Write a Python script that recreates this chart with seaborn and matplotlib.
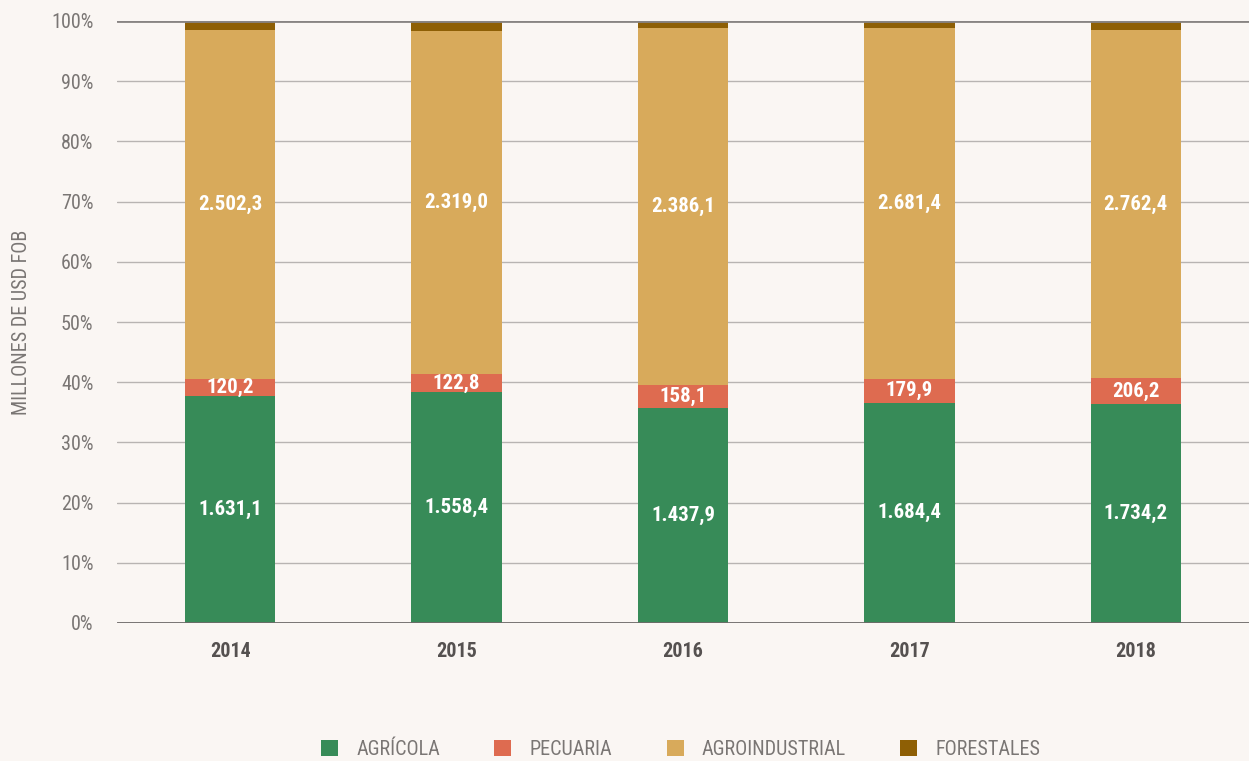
import matplotlib.pyplot as plt
import numpy as np
import pandas as pd
import seaborn as sns
from matplotlib import font_manager
from matplotlib.patches import Patch

years = ["2014", "2015", "2016", "2017", "2018"]
agricola = [1631.1, 1558.4, 1437.9, 1684.4, 1734.2]
pecuaria = [120.2, 122.8, 158.1, 179.9, 206.2]
agroindustrial = [2502.3, 2319.0, 2386.1, 2681.4, 2762.4]
forestales = [65.0, 65.0, 48.0, 55.0, 72.0]  # not labelled, estimated from the band heights

series_names = ["AGRÍCOLA", "PECUARIA", "AGROINDUSTRIAL", "FORESTALES"]
colors = ["#378b58", "#de6b50", "#d8aa5b", "#8e5f05"]

bg = "#faf6f3"
grey = "#7a7674"

# prefer a narrow face if one is installed
installed = {f.name for f in font_manager.fontManager.ttflist}
narrow = [n for n in ["Liberation Sans Narrow", "Roboto Condensed", "Open Sans Condensed",
                      "DejaVu Sans Condensed", "Roboto", "DejaVu Sans"] if n in installed]
font = narrow[:1] + ["DejaVu Sans"]

sns.set_style("white")
plt.rcParams["font.family"] = font

vals = np.array([agricola, pecuaria, agroindustrial, forestales])
pct = vals / vals.sum(axis=0) * 100
cum = np.cumsum(pct, axis=0)

fig = plt.figure(figsize=(12.49, 7.61), dpi=100, facecolor=bg)
ax = fig.add_axes([117 / 1249, 138 / 761, 1 - 117 / 1249, 602 / 761])
ax.set_facecolor(bg)

# stacked bars: draw cumulative tops, largest first
for i in reversed(range(len(series_names))):
    df = pd.DataFrame({"year": years, "top": cum[i]})
    sns.barplot(data=df, x="year", y="top", color=colors[i], width=0.4,
                saturation=1, linewidth=0, ax=ax, zorder=3)

for j in range(len(years)):
    for i in range(3):
        mid = cum[i, j] - pct[i, j] / 2
        txt = f"{vals[i, j]:,.1f}".replace(",", "X").replace(".", ",").replace("X", ".")
        ax.text(j, mid, txt, ha="center", va="center", color="white",
                fontsize=15, fontweight="bold", zorder=5)

ax.set_ylim(0, 100)
ax.set_xlim(-0.5, 4.5)
ax.set_yticks(np.arange(0, 101, 10))
ax.set_yticklabels([f"{t}%" for t in range(0, 101, 10)], fontsize=14.5, color=grey)
ax.tick_params(axis="y", length=5, color=grey, pad=12)
ax.tick_params(axis="x", length=0, pad=14, labelsize=14.5, labelcolor="#555150")
for lab in ax.get_xticklabels():
    lab.set_fontweight("bold")
ax.yaxis.grid(True, color="#b8b4b2", linewidth=1, zorder=0)
ax.axhline(100, color="#888483", linewidth=2, zorder=4)
ax.axhline(0, color="#6e6a69", linewidth=2, zorder=4)
for s in ax.spines.values():
    s.set_visible(False)

ax.set_xlabel("")
ax.set_ylabel("MILLONES DE USD FOB", fontsize=14.5, color=grey)
ax.yaxis.set_label_coords(-0.076, 0.5)

handles = [Patch(facecolor=c, edgecolor="none") for c in colors]
fig.legend(handles, series_names, loc="center", bbox_to_anchor=(0.545, 0.015),
           ncol=4, frameon=False, fontsize=14.5, labelcolor=grey,
           handlelength=0.85, handleheight=0.85, columnspacing=2.7, handletextpad=0.9)

fig.savefig("out.png", dpi=100, facecolor=bg)
